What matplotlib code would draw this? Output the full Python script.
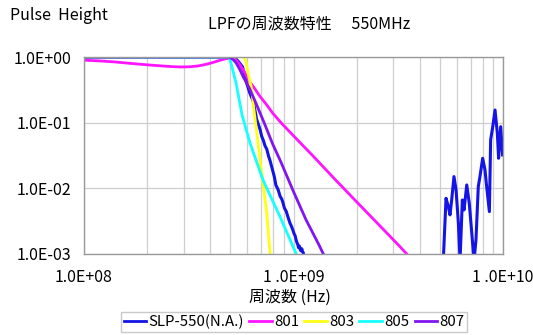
import numpy as np
import matplotlib
matplotlib.use("Agg")
import matplotlib.pyplot as plt

plt.rcParams['font.family'] = ['Noto Sans CJK JP', 'DejaVu Sans']

# ---- data (frequency in MHz, pulse height ratio) ----
slp_f = [100, 200, 316, 447, 525, 546, 571, 598, 619, 643, 667, 692, 705, 718, 732, 745,
         760, 773, 794, 810, 824, 845, 863, 880, 891, 905, 923, 940, 962, 975, 989, 1009,
         1018, 1028, 1038, 1047, 1057, 1067, 1076, 1084, 1096, 1105, 1114, 1122,
         np.nan,
         5188, 5346, 5483, 5585, 5689, 5834, 5970, 6124, 6237, 6397, 6516, 6714, 6902,
         7096, 7278, 7430, 7621, 7762, 7998, 8204, 8356, 8610, 8730, 8933, 9162, 9397,
         9528, 9750, 9954]
slp_v = [0.989, 0.989, 0.984, 0.993, 0.977, 0.851, 0.708, 0.398, 0.282, 0.209, 0.112,
         0.0794, 0.0620, 0.0537, 0.0440, 0.0398, 0.0310, 0.0263, 0.0191, 0.0150, 0.0112,
         0.0095, 0.00759, 0.00680, 0.00603, 0.00500, 0.00447, 0.00370,
         0.00295, 0.00270, 0.0024, 0.0020, 0.00190, 0.00166, 0.00150, 0.00141, 0.00125,
         0.00132, 0.00118, 0.00112, 0.0012, 0.00108, 0.00105, 0.00079,
         np.nan,
         0.0008, 0.00706, 0.00527, 0.00394, 0.00665, 0.0151, 0.00946, 0.00294, 0.0008,
         0.00665, 0.00469, 0.01127, 0.00593, 0.00207, 0.0008, 0.00164, 0.0106, 0.0151,
         0.0287, 0.0191, 0.0106, 0.00442, 0.0546, 0.0869, 0.156, 0.069, 0.0287, 0.0869,
         0.0322]

m801_f = [100, 120, 141, 170, 200, 230, 260, 290, 320, 350, 380, 410, 440, 470, 500,
          520, 537, 555, 575, 595, 617, 646, 692, 741, 794, 871, 1000, 1259, 1585, 1995,
          2512, 3162, 3548]
m801_v = [0.895, 0.87, 0.84, 0.795, 0.76, 0.735, 0.715, 0.705, 0.71, 0.73, 0.77, 0.82,
          0.88, 0.935, 0.96, 0.94, 0.87, 0.76, 0.64, 0.52, 0.42, 0.347, 0.251, 0.191,
          0.141, 0.10, 0.0631, 0.0295, 0.0135, 0.0063, 0.00295, 0.00138, 0.00093]

m803_f = [100, 300, 500, 570, 582, 593, 608, 631, 644, 667, 705, 745, 772, 780]
m803_v = [1.0, 1.0, 1.0, 1.01, 1.0, 0.85, 0.55, 0.33, 0.18, 0.074, 0.017, 0.0042,
          0.00105, 0.0008]

m805_f = [100, 300, 450, 485, 497, 507, 532, 568, 620, 715, 863, 1028, 1040]
m805_v = [1.0, 0.99, 0.99, 1.0, 0.93, 0.73, 0.40, 0.131, 0.049, 0.0134, 0.00367,
          0.00102, 0.0009]

m807_f = [100, 300, 447, 485, 498, 512, 532, 555, 575, 617, 661, 724, 794, 871, 1000,
          1148, 1318, 1413]
m807_v = [1.0, 1.0, 1.0, 0.995, 0.977, 0.93, 0.813, 0.64, 0.501, 0.331, 0.20, 0.10,
          0.0479, 0.0251, 0.00891, 0.00331, 0.00141, 0.00089]

series_names = ["SLP-550(N.A.)", "801", "803", "805", "807"]
series_colors = ["#1414e6", "#ff14ff", "#ffff14", "#14ffff", "#8214f0"]

x_ticks = [1e8, 1e9, 1e10]
x_tick_labels = ["1.0E+08", "1 .0E+09", "1 .0E+10"]
y_ticks = [1e-3, 1e-2, 1e-1, 1e0]
y_tick_labels = ["1.0E-03", "1.0E-02", "1.0E-01", "1.0E+00"]

# ---- figure ----
W, H = 533, 335
fig = plt.figure(figsize=(W / 100, H / 100), dpi=100)
ax = fig.add_axes([84 / W, 1 - 254 / H, (503 - 84) / W, (254 - 57) / H])

data = [(slp_f, slp_v), (m801_f, m801_v), (m803_f, m803_v), (m805_f, m805_v), (m807_f, m807_v)]
for i, ((f, v), name, col) in enumerate(zip(data, series_names, series_colors)):
    ax.plot(np.array(f, dtype=float) * 1e6, v, color=col, lw=2.2 if i == 0 else 2.0,
            label=name, solid_joinstyle='round', zorder=3 + i)

ax.set_xscale('log')
ax.set_yscale('log')
ax.set_xlim(1e8, 1e10)
ax.set_ylim(1e-3, 1.0)

ax.set_xticks(x_ticks)
ax.set_xticklabels(x_tick_labels)
ax.set_yticks(y_ticks)
ax.set_yticklabels(y_tick_labels)
ax.xaxis.set_minor_locator(matplotlib.ticker.LogLocator(base=10, subs=np.arange(2, 10)))
ax.xaxis.set_minor_formatter(matplotlib.ticker.NullFormatter())
ax.yaxis.set_minor_locator(matplotlib.ticker.NullLocator())
ax.tick_params(which='both', length=0, labelsize=11.5, colors='black')
ax.tick_params(axis='x', pad=11)
ax.tick_params(axis='y', pad=9)

ax.grid(True, which='major', axis='both', color='#cfcfcf', lw=0.9)
ax.grid(True, which='minor', axis='x', color='#cfcfcf', lw=0.9)
ax.set_axisbelow(True)
for s in ax.spines.values():
    s.set_color('#9a9a9a')
    s.set_linewidth(1.0)
    s.set_zorder(20)

fig.text(10 / W, 1 - 15 / H, "Pulse  Height", fontsize=11.5, va='center', ha='left')
fig.text(208 / W, 1 - 24 / H, "LPFの周波数特性　 550MHz", fontsize=11.5, va='center', ha='left')
fig.text(290 / W, 1 - 297 / H, "周波数 (Hz)", fontsize=11.5, va='center', ha='center')

leg = fig.legend(loc='center', bbox_to_anchor=(294 / W, 1 - 322 / H), ncol=5,
                 fontsize=10.8, frameon=True, fancybox=False, handlelength=1.5,
                 handletextpad=0.15, columnspacing=0.35, borderpad=0.15,
                 borderaxespad=0, edgecolor='#bdbdbd')
leg.get_frame().set_linewidth(1.0)
for line in leg.get_lines():
    line.set_linewidth(2.0)

fig.savefig("out.png", dpi=100)
